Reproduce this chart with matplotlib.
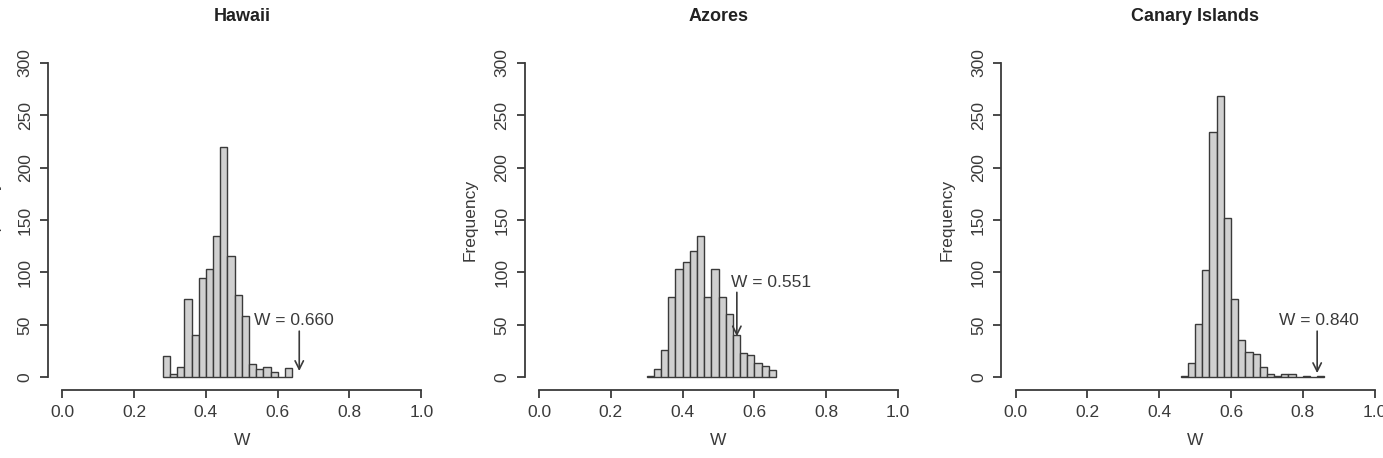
import numpy as np
import matplotlib
matplotlib.use("Agg")
import matplotlib.pyplot as plt

plt.rcParams["font.family"] = ["Liberation Sans", "DejaVu Sans"]

# histogram data (bin width 0.02)
titles = ["Hawaii", "Azores", "Canary Islands"]
bin_width = 0.02

hawaii_start = 0.28
hawaii_counts = [20, 3, 10, 75, 40, 95, 103, 135, 220, 116, 78, 58, 13, 8, 10, 5, 0, 9]

azores_start = 0.30
azores_counts = [1, 8, 26, 77, 103, 110, 120, 135, 77, 103, 77, 60, 40, 23, 21, 14, 11, 7]

canary_start = 0.46
canary_counts = [1, 14, 51, 102, 234, 268, 152, 75, 36, 24, 22, 10, 3, 1, 3, 3, 0, 1, 0, 1]

# observed W values and where the arrow starts / text sits
w_obs = [0.660, 0.551, 0.840]
arrow_top = [44, 81, 44]
arrow_tip = [6, 39, 4]
label_x = [0.535, 0.535, 0.734]
label_y = [54, 90, 54]

starts = [hawaii_start, azores_start, canary_start]
counts = [hawaii_counts, azores_counts, canary_counts]

edge = "#3a3a3a"
fill = "#d0d0d0"
txt = "#3a3a3a"

fig = plt.figure(figsize=(13.83, 4.58), dpi=100)
lefts = [0.0347, 0.3794, 0.724]

for i in range(3):
    ax = fig.add_axes([lefts[i], 0.1487, 0.2803, 0.742])
    c = np.array(counts[i])
    x = starts[i] + bin_width * np.arange(len(c))
    ax.bar(x, c, width=bin_width, align="edge", color=fill,
           edgecolor=edge, linewidth=1.0)

    ax.set_xlim(-0.04, 1.04)
    ax.set_ylim(-12, 312)
    ax.set_xticks([0.0, 0.2, 0.4, 0.6, 0.8, 1.0])
    ax.set_xticklabels(["0.0", "0.2", "0.4", "0.6", "0.8", "1.0"])
    ax.set_yticks([0, 50, 100, 150, 200, 250, 300])

    for s in ["top", "right"]:
        ax.spines[s].set_visible(False)
    ax.spines["left"].set_bounds(0, 300)
    ax.spines["bottom"].set_bounds(0, 1)
    for s in ["left", "bottom"]:
        ax.spines[s].set_color(edge)
        ax.spines[s].set_linewidth(1.3)

    ax.tick_params(axis="both", length=6, width=1.3, color=edge,
                   labelsize=12.5, labelcolor=txt, pad=5)
    for lab in ax.get_yticklabels():
        lab.set_rotation(90)
        lab.set_va("center")

    ax.set_xlabel("W", fontsize=12.5, color=txt, labelpad=9)
    ax.set_ylabel("Frequency", fontsize=12.5, color=txt, labelpad=12)
    ax.set_title(titles[i], fontsize=13, fontweight="bold", color="#222222", pad=21)

    ax.annotate("", xy=(w_obs[i], arrow_tip[i]), xytext=(w_obs[i], arrow_top[i]),
                arrowprops=dict(arrowstyle="->", color=edge, lw=1.2,
                                mutation_scale=15, shrinkA=0, shrinkB=0))
    ax.text(label_x[i], label_y[i], "W = %.3f" % w_obs[i], fontsize=12.5,
            color=txt, ha="left", va="center")

fig.savefig("out.png", dpi=100)
